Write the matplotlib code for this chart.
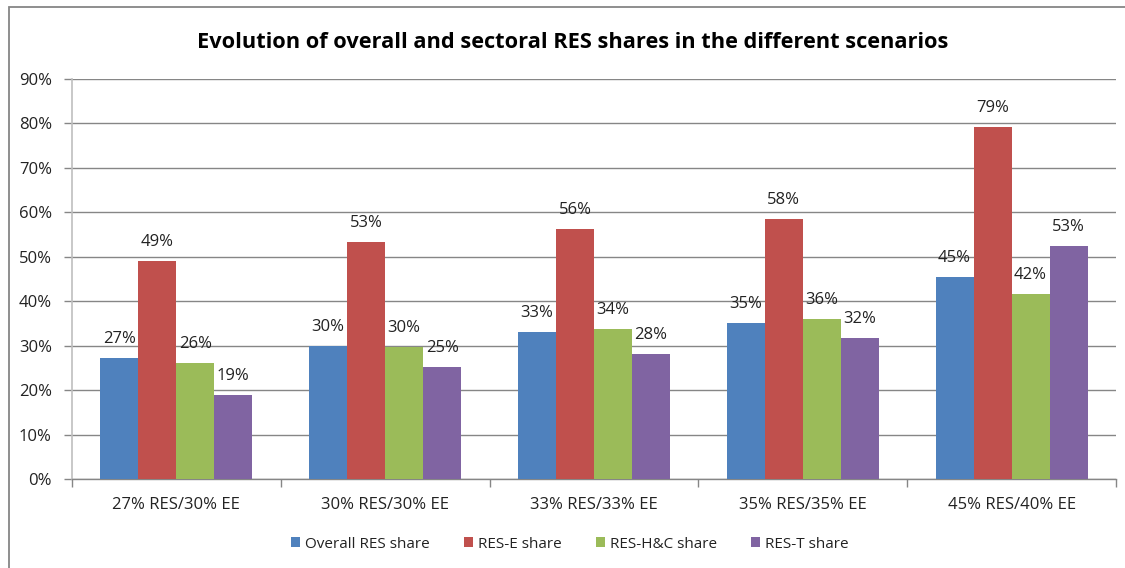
import matplotlib
matplotlib.use("Agg")
import matplotlib.pyplot as plt
import numpy as np
from matplotlib.patches import Rectangle
from matplotlib.ticker import FixedLocator, PercentFormatter

categories = ["27% RES/30% EE", "30% RES/30% EE", "33% RES/33% EE",
              "35% RES/35% EE", "45% RES/40% EE"]
series_names = ["Overall RES share", "RES-E share", "RES-H&C share", "RES-T share"]
overall = [27.3, 30.0, 33.1, 35.1, 45.4]
res_e = [49.1, 53.3, 56.2, 58.5, 79.2]
res_hc = [26.1, 29.8, 33.8, 36.0, 41.7]
res_t = [18.9, 25.2, 28.1, 31.8, 52.4]
labels = {
    "Overall RES share": ["27%", "30%", "33%", "35%", "45%"],
    "RES-E share": ["49%", "53%", "56%", "58%", "79%"],
    "RES-H&C share": ["26%", "30%", "34%", "36%", "42%"],
    "RES-T share": ["19%", "25%", "28%", "32%", "53%"],
}
colors = ["#4F81BD", "#C0504D", "#9BBB59", "#8064A2"]
title = "Evolution of overall and sectoral RES shares in the different scenarios"

plt.rcParams['font.family'] = ['Open Sans', 'DejaVu Sans']

fig = plt.figure(figsize=(11.25, 5.68), dpi=100)
W, H = 1125, 568
ax = fig.add_axes([72 / W, 1 - 479 / H, (1116 - 72) / W, (479 - 79) / H])

# outer chart border (only left/top visible in crop)
fig.patches.append(Rectangle((9 / W, -0.2), 2.0, 1 - 7 / H + 0.2, transform=fig.transFigure,
                             fill=False, edgecolor="#868686", linewidth=1.3))

data = [overall, res_e, res_hc, res_t]
x = np.arange(len(categories))
bw = 0.182
for i, (name, vals, c) in enumerate(zip(series_names, data, colors)):
    pos = x + (i - 1.5) * bw
    ax.bar(pos, vals, width=bw, color=c, label=name, zorder=3)
    for p, v, lab in zip(pos, vals, labels[name]):
        ax.annotate(lab, (p, v), xytext=(0, 13.5), textcoords="offset points",
                    ha="center", va="center", fontsize=12, color="#222222", zorder=4)

ax.set_xlim(-0.5, len(categories) - 0.5)
ax.set_ylim(0, 90)
ax.yaxis.set_major_locator(FixedLocator(np.arange(0, 91, 10)))
ax.yaxis.set_major_formatter(PercentFormatter(decimals=0))
ax.grid(axis="y", color="#868686", linewidth=1.0, zorder=0)
ax.set_axisbelow(True)

ax.set_xticks(x)
ax.set_xticklabels(categories)
ax.set_xticks(np.arange(-0.5, len(categories), 1.0), minor=True)
ax.tick_params(axis="x", which="major", length=0, pad=13, labelsize=12, labelcolor="#222222")
ax.tick_params(axis="x", which="minor", length=6, color="#868686", width=1.0)
ax.tick_params(axis="y", length=6, color="#868686", width=1.0, labelsize=12,
               labelcolor="#222222", pad=8.5)

for s in ["top", "right"]:
    ax.spines[s].set_visible(False)
ax.spines["left"].set_color("#BFBFBF")
ax.spines["left"].set_linewidth(1.2)
ax.spines["bottom"].set_color("#868686")
ax.spines["bottom"].set_linewidth(1.0)

fig.text(573 / W, 1 - 42 / H, title, ha="center", va="center", fontsize=15.7,
         fontweight="bold", color="#000000")

fig.legend(loc="center", bbox_to_anchor=(570 / W, 1 - 544 / H), ncol=4, frameon=False,
           fontsize=11, handlelength=0.6, handleheight=0.6, handletextpad=0.35,
           columnspacing=2.2, labelcolor="#222222")

fig.savefig("out.png", dpi=100)
